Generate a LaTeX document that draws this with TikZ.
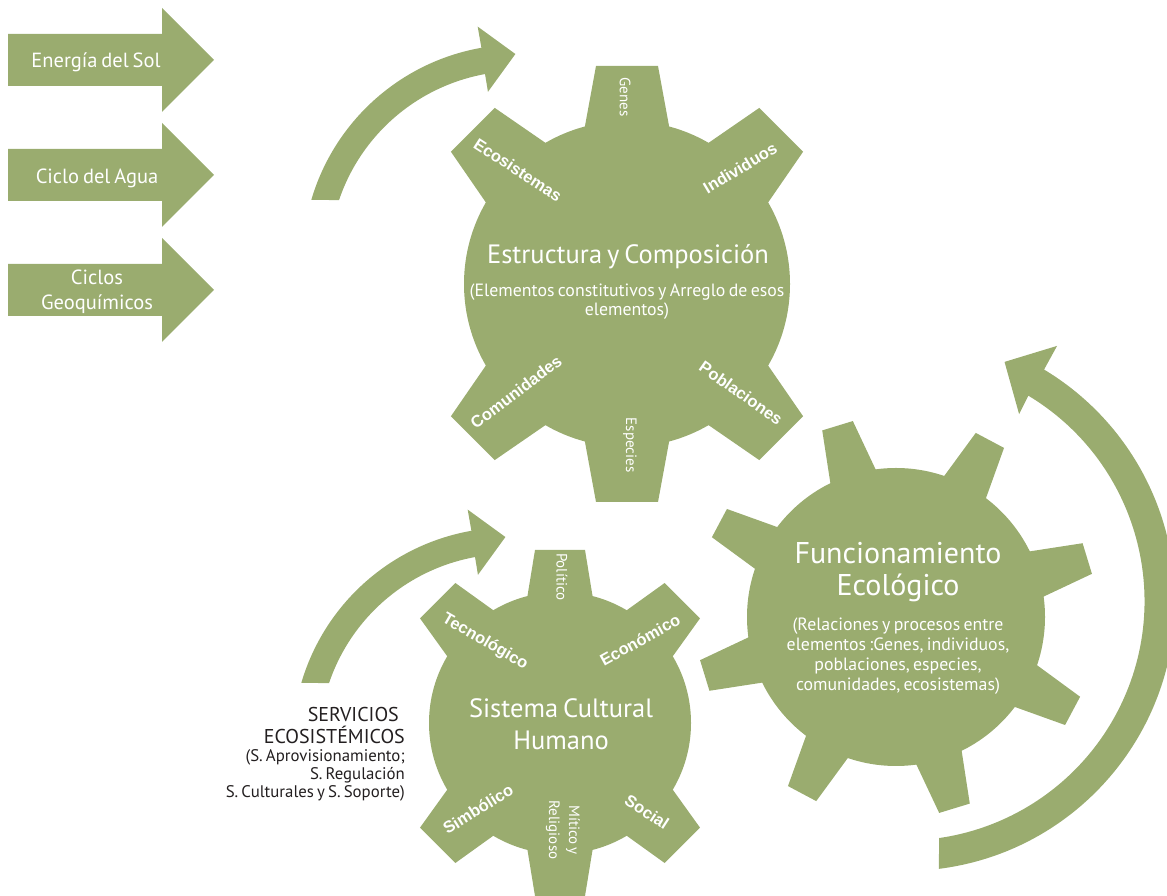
\documentclass[tikz,border=0pt]{standalone}
\usepackage{fontspec}
\setmainfont[WordSpace=0.7]{PT Sans}
\newfontfamily\labelfont{Liberation Sans}
\usetikzlibrary{positioning}
\definecolor{leaf}{RGB}{154,172,111}
\definecolor{ink}{RGB}{35,31,32}
\tikzset{
	inarrow/.style={text=white, align=center, font=\fontsize{20.5}{25}\selectfont},
	gtitle/.style={text=white, align=center, font=\fontsize{26.5}{32}\selectfont},
	gsub/.style={text=white, align=center, font=\fontsize{17.8}{19}\selectfont},
	tooth/.style={text=white, font=\labelfont\bfseries\fontsize{16.5}{18}\selectfont},
	vlabel/.style={text=white, align=center, rotate=-90, font=\fontsize{15}{20}\selectfont},
	side/.style={text=ink, align=right, anchor=east, inner sep=0pt}
}
\begin{document}
\begin{tikzpicture}[x=1pt,y=1pt]
	\useasboundingbox (0,0) rectangle (1167,896);
	\coordinate (g1) at (627,612);
	\coordinate (g2) at (560,173);
	\coordinate (g3) at (896,279);
	\foreach \y in {836,721,606}
		\fill[leaf] (8,\y-26) -- (162,\y-26) -- (162,\y-52) -- (214,\y) -- (162,\y+52) -- (162,\y+26) -- (8,\y+26) -- cycle;
	\node[inarrow] (sol) at (96,834) {Energía del Sol};
	\node[inarrow] (agua) at (97,718) {Ciclo del Agua};
	\node[inarrow] (geo) at (97,604) {Ciclos\\Geoquímicos};
	\foreach \cx/\cy in {519/635, 509/152}
		\fill[leaf, shift={(\cx,\cy)}] (163.6:216.5) arc[start angle=163.6, end angle=100, radius=216.5] -- (100:238) -- (91:207) -- (100.4:172) -- (100.3:190) arc[start angle=100.3, end angle=161.3, radius=190] -- cycle;
	\fill[leaf, shift={(905,295)}] (-82.8:270) arc[start angle=-82.8, end angle=59, radius=270] -- (59.2:297) -- (67.4:259) -- (58.6:219) -- (59:239.5) arc[start angle=59, end angle=-81.8, radius=239.5] -- cycle;
	\fill[leaf] (g1) circle[radius=163];
	\foreach \a in {45,90,135,225,270,315}
		\fill[leaf, shift={(g1)}, rotate=\a] (150,-43.5) -- (218,-31) -- (218,31) -- (150,43.5) -- cycle;
	\fill[leaf] (g2) circle[radius=131];
	\foreach \a in {45,90,135,225,270,315}
		\fill[leaf, shift={(g2)}, rotate=\a] (115,-34.5) -- (173,-25) -- (173,25) -- (115,34.5) -- cycle;
	\fill[leaf] (g3) circle[radius=149];
	\foreach \a in {17,62,...,332}
		\fill[leaf, shift={(g3)}, rotate=\a] (135,-25.4) -- (200,-16) -- (200,16) -- (135,25.4) -- cycle;
	\node[gtitle] (estructura) at (628,639) {Estructura y Composición};
	\node[gsub] (elementos) at (627,594) {(Elementos constitutivos y Arreglo de esos\\elementos)};
	\node[vlabel] (genes) at (625,799) {Genes};
	\node[vlabel] (especies) at (630,451) {Especies};
	\node[tooth, rotate=-33] (ecosistemas) at (518,726) {Ecosistemas};
	\node[tooth, rotate=31] (individuos) at (740,728) {Individuos};
	\node[tooth, rotate=37] (comunidades) at (516,504) {Comunidades};
	\node[tooth, rotate=-35] (poblaciones) at (741,503) {Poblaciones};
	\node[gtitle] (cultural) at (561,172) {Sistema Cultural\\Humano};
	\node[vlabel] (politico) at (562,319) {Político};
	\node[tooth, rotate=-30] (tecnologico) at (485,254) {Tecnológico};
	\node[tooth, rotate=29] (economico) at (640,256) {Económico};
	\node[tooth, rotate=32] (simbolico) at (478,87) {Simbólico};
	\node[tooth, rotate=-33] (social) at (647,84) {Social};
	\node[vlabel] (mitico) at (563,66) {Mítico y\\Religioso};
	\node[gtitle, font=\fontsize{30}{32}\selectfont] (funcionamiento) at (898,324) {Funcionamiento\\Ecológico};
	\node[gsub, font=\fontsize{17.8}{20}\selectfont] (relaciones) at (898,240) {(Relaciones y procesos entre\\elementos :Genes, individuos,\\poblaciones, especies,\\comunidades, ecosistemas)};
	\node[side, font=\fontsize{20}{22}\selectfont] (servicios) at (405,170) {SERVICIOS\hspace*{6pt}\\ECOSISTÉMICOS};
	\node[side, font=\fontsize{16.8}{18}\selectfont] (tipos) at (405,121) {(S. Aprovisionamiento;\\S. Regulación\\S. Culturales y S. Soporte)};
\end{tikzpicture}
\end{document}
